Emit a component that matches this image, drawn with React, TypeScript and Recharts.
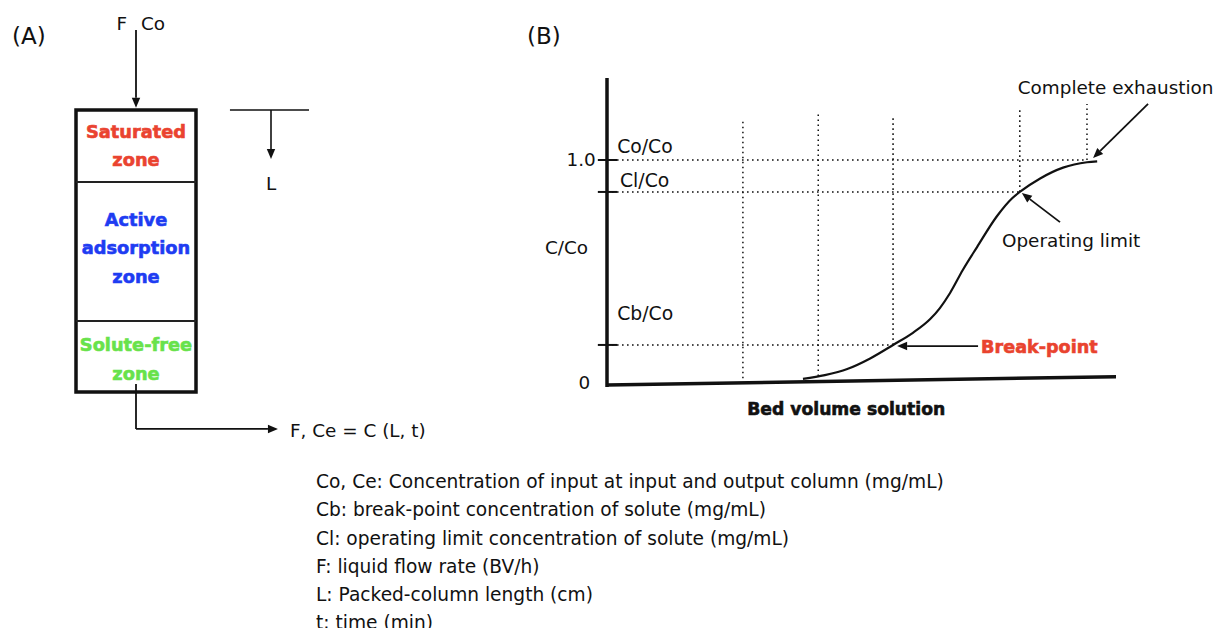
import React from 'react';
import {
  ComposedChart,
  Line,
  XAxis,
  YAxis,
  ReferenceLine,
  ReferenceArea,
  ReferenceDot,
} from 'recharts';

const FONT = '"DejaVu Sans", Verdana, sans-serif';
const INK = '#111';

// ---------- (B) breakthrough curve: C/Co vs bed volume (arbitrary units 0-10)
const curveBV = [3.85, 4.28, 4.72, 5.17, 5.62, 6.01, 6.35, 6.54, 6.74, 6.99, 7.27, 7.66, 7.96, 8.11, 8.51, 8.96, 9.43, 9.63];
const curveC = [0.027, 0.044, 0.071, 0.118, 0.178, 0.232, 0.293, 0.342, 0.409, 0.511, 0.613, 0.75, 0.83, 0.858, 0.918, 0.966, 0.99, 0.994];

// slightly tilted bed-volume axis
const baseBV = [0, 10];
const baseC = [0, 0.037];

// concentration levels
const levelNames = ['Cb/Co', 'Cl/Co', 'Co/Co'];
const levelValues = [0.178, 0.858, 1.0];
const levelEndBV = [5.62, 8.11, 9.43];
const levelLabelBV = [0.2, 0.255, 0.2];
const levelLabelC = [0.316, 0.911, 1.062];

// vertical guide lines
const guideBV = [2.67, 4.15, 5.62, 8.11, 9.43];
const guideLow = [0.03, 0.04, 0.178, 0.858, 1.0];
const guideHigh = [1.182, 1.204, 1.196, 1.227, 1.249];

const yTickValues = [0, 1.0];
const yTickLabels = ['0', '1.0'];
const yTickLabelBV = [-0.33, -0.22];

// annotations: text, anchor point, arrow tail -> tip
const noteTexts = ['Complete exhaustion', 'Operating limit', 'Break-point'];
const noteBV = [8.07, 7.76, 7.35];
const noteC = [1.32, 0.64, 0.169];
const noteColors = [INK, INK, '#e9432e'];
const noteBold = [false, false, true];
const arrowFrom = [[10.63, 1.249], [8.9, 0.724], [7.29, 0.173]];
const arrowTo = [[9.55, 1.009], [8.15, 0.853], [5.7, 0.173]];

// ---------- (A) packed column, units: column width = 1, column depth = 1
const zoneLines = [['Saturated', 'zone'], ['Active', 'adsorption', 'zone'], ['Solute-free', 'zone']];
const zoneColors = ['#ea4330', '#1e3cf2', '#68e24b'];
const zoneDividers = [0.255, 0.748];
const zoneLabelDepth = [[0.078, 0.177], [0.387, 0.486, 0.589], [0.833, 0.936]];

// outlet pipe (column width / depth units)
const outletU = [0.5, 0.5];
const outletV = [0.972, 1.131];

const notes = [
  'Co, Ce: Concentration of input at input and output column (mg/mL)',
  'Cb: break-point concentration of solute (mg/mL)',
  'Cl: operating limit concentration of solute (mg/mL)',
  'F: liquid flow rate (BV/h)',
  'L: Packed-column length (cm)',
  't: time (min)',
];

const curveData = curveBV.map((bv, i) => ({ bv, c: curveC[i] }));
const baseData = baseBV.map((bv, i) => ({ bv, c: baseC[i] }));
const outletData = outletU.map((u, i) => ({ u, v: outletV[i] }));

function ArrowShape(props: any) {
  const { x1, y1, x2, y2, stroke, strokeWidth } = props;
  const a = Math.atan2(y2 - y1, x2 - x1);
  const len = 10;
  const half = 4.2;
  const bx = x2 - len * Math.cos(a);
  const by = y2 - len * Math.sin(a);
  const pts = [
    `${x2},${y2}`,
    `${bx - half * Math.sin(a)},${by + half * Math.cos(a)}`,
    `${bx + half * Math.sin(a)},${by - half * Math.cos(a)}`,
  ].join(' ');
  return (
    <g>
      <line x1={x1} y1={y1} x2={bx} y2={by} stroke={stroke} strokeWidth={strokeWidth} />
      <polygon points={pts} fill={stroke} />
    </g>
  );
}

function textShape(
  text: string,
  opts: { anchor?: 'start' | 'middle' | 'end'; size?: number; bold?: boolean; color?: string; dy?: number } = {}
) {
  const color = opts.color ?? INK;
  return (p: any) => (
    <text
      x={p.cx}
      y={p.cy + (opts.dy ?? 0)}
      textAnchor={opts.anchor ?? 'start'}
      dominantBaseline="central"
      fontFamily={FONT}
      fontSize={opts.size ?? 18.4}
      fontWeight={opts.bold ? 700 : 400}
      fill={color}
      stroke={opts.bold ? color : 'none'}
      strokeWidth={opts.bold ? 0.6 : 0}
    >
      {text}
    </text>
  );
}

function ColumnPanel() {
  return (
    <ComposedChart width={460} height={450} data={outletData} margin={{ top: 110, left: 76, right: 264, bottom: 58 }}>
      <XAxis type="number" dataKey="u" domain={[0, 1]} allowDataOverflow hide />
      <YAxis type="number" dataKey="v" domain={[0, 1]} allowDataOverflow reversed hide />
      <ReferenceArea x1={0} x2={1} y1={0} y2={1} fill="#fff" fillOpacity={1} stroke={INK} strokeWidth={3.5} />
      {zoneDividers.map((v) => (
        <ReferenceLine key={v} y={v} stroke="#222" strokeWidth={2} />
      ))}
      {zoneLines.map((lines, z) =>
        lines.map((t, k) => (
          <ReferenceDot
            key={`${z}-${k}`}
            x={0.5}
            y={zoneLabelDepth[z][k]}
            ifOverflow="visible"
            shape={textShape(t, { anchor: 'middle', bold: true, color: zoneColors[z], size: 17.8 })}
          />
        ))
      )}
      {/* inlet */}
      <ReferenceLine segment={[{ x: 0.5, y: -0.284 }, { x: 0.5, y: -0.008 }]} ifOverflow="visible" stroke={INK} strokeWidth={1.8} shape={ArrowShape} />
      {/* outlet */}
      <ReferenceLine segment={[{ x: 0.5, y: 0.972 }, { x: 0.5, y: 1.131 }]} ifOverflow="visible" stroke={INK} strokeWidth={1.8} />
      <ReferenceLine segment={[{ x: 0.5, y: 1.131 }, { x: 1.683, y: 1.131 }]} ifOverflow="visible" stroke={INK} strokeWidth={1.8} shape={ArrowShape} />
      <Line dataKey="v" type="linear" dot={false} stroke="none" isAnimationActive={false} />
      {/* length marker */}
      <ReferenceLine segment={[{ x: 1.283, y: 0 }, { x: 1.942, y: 0 }]} ifOverflow="visible" stroke={INK} strokeWidth={1.6} />
      <ReferenceLine segment={[{ x: 1.625, y: 0 }, { x: 1.625, y: 0.174 }]} ifOverflow="visible" stroke={INK} strokeWidth={1.6} shape={ArrowShape} />
      <ReferenceDot x={-0.533} y={-0.262} ifOverflow="visible" shape={textShape('(A)', { size: 23 })} />
      <ReferenceDot x={0.425} y={-0.305} ifOverflow="visible" shape={textShape('F', { anchor: 'end' })} />
      <ReferenceDot x={0.542} y={-0.305} ifOverflow="visible" shape={textShape('Co')} />
      <ReferenceDot x={1.625} y={0.262} ifOverflow="visible" shape={textShape('L', { anchor: 'middle' })} />
      <ReferenceDot x={1.783} y={1.135} ifOverflow="visible" shape={textShape('F, Ce = C (L, t)')} />
    </ComposedChart>
  );
}

function CurvePanel() {
  return (
    <ComposedChart width={756} height={460} margin={{ top: 78, left: 147, right: 100, bottom: 75 }}>
      <XAxis type="number" dataKey="bv" domain={[0, 10]} hide />
      <YAxis type="number" dataKey="c" domain={[0, 1.3644]} hide />
      {levelValues.map((v, i) => (
        <ReferenceLine
          key={`h${i}`}
          segment={[{ x: 0, y: v }, { x: levelEndBV[i], y: v }]}
          stroke={INK}
          strokeWidth={1.5}
          strokeDasharray="1.6 3.4"
        />
      ))}
      {guideBV.map((bv, i) => (
        <ReferenceLine
          key={`v${i}`}
          segment={[{ x: bv, y: guideLow[i] }, { x: bv, y: guideHigh[i] }]}
          stroke={INK}
          strokeWidth={1.5}
          strokeDasharray="1.6 3.4"
        />
      ))}
      {levelValues.map((v, i) => (
        <ReferenceLine
          key={`t${i}`}
          segment={[{ x: -0.18, y: v }, { x: 0.2, y: v }]}
          ifOverflow="visible"
          stroke={INK}
          strokeWidth={2}
        />
      ))}
      <ReferenceLine segment={[{ x: 0, y: -0.009 }, { x: 0, y: 1.3644 }]} ifOverflow="visible" stroke={INK} strokeWidth={3.5} />
      <Line data={baseData} dataKey="c" type="linear" dot={false} stroke={INK} strokeWidth={3.5} isAnimationActive={false} />
      <Line data={curveData} dataKey="c" type="monotone" dot={false} stroke={INK} strokeWidth={2.2} isAnimationActive={false} />
      {levelNames.map((n, i) => (
        <ReferenceDot key={n} x={levelLabelBV[i]} y={levelLabelC[i]} ifOverflow="visible" shape={textShape(n, { size: 18.8 })} />
      ))}
      {yTickValues.map((v, i) => (
        <ReferenceDot
          key={`yt${i}`}
          x={yTickLabelBV[i]}
          y={v}
          ifOverflow="visible"
          shape={textShape(yTickLabels[i], { anchor: 'end', dy: i === 0 ? -3 : 0 })}
        />
      ))}
      <ReferenceDot x={-1.22} y={0.613} ifOverflow="visible" shape={textShape('C/Co')} />
      <ReferenceDot x={-1.57} y={1.551} ifOverflow="visible" shape={textShape('(B)', { size: 23 })} />
      <ReferenceDot x={4.7} y={-0.107} ifOverflow="visible" shape={textShape('Bed volume solution', { anchor: 'middle', bold: true, size: 17.2 })} />
      {arrowFrom.map((f, i) => (
        <ReferenceLine
          key={`a${i}`}
          segment={[{ x: f[0], y: f[1] }, { x: arrowTo[i][0], y: arrowTo[i][1] }]}
          ifOverflow="visible"
          stroke={INK}
          strokeWidth={1.8}
          shape={ArrowShape}
        />
      ))}
      {noteTexts.map((t, i) => (
        <ReferenceDot
          key={t}
          x={noteBV[i]}
          y={noteC[i]}
          ifOverflow="visible"
          shape={textShape(t, { bold: noteBold[i], color: noteColors[i], size: noteBold[i] ? 17.6 : 18.4 })}
        />
      ))}
    </ComposedChart>
  );
}

export default function App() {
  return (
    <div style={{ position: 'absolute', left: 0, top: 0, width: 1216, height: 628, background: '#fff', overflow: 'hidden' }}>
      <div style={{ position: 'absolute', left: 0, top: 0 }}>
        <ColumnPanel />
      </div>
      <div style={{ position: 'absolute', left: 460, top: 0 }}>
        <CurvePanel />
      </div>
      <div
        style={{
          position: 'absolute',
          left: 316,
          top: 468,
          fontFamily: FONT,
          fontSize: 18.6,
          lineHeight: '28.3px',
          color: INK,
          whiteSpace: 'nowrap',
        }}
      >
        {notes.map((n) => (
          <div key={n}>{n}</div>
        ))}
      </div>
    </div>
  );
}
